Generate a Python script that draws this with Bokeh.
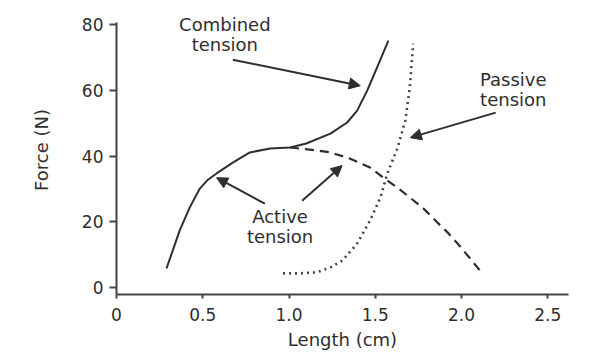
from bokeh.plotting import figure
from bokeh.models import Range1d, FixedTicker, Arrow, NormalHead, Label
from bokeh.embed import file_html
from bokeh.resources import INLINE

# Combined tension (solid)
combined_x = [0.29, 0.366, 0.424, 0.483, 0.53, 0.58, 0.674, 0.773, 0.89, 1.006, 1.10, 1.24, 1.337, 1.395, 1.453, 1.51, 1.576]
combined_y = [5.8, 17.3, 24.3, 30.1, 32.8, 34.7, 38.0, 41.1, 42.3, 42.6, 43.8, 46.8, 50.2, 53.8, 59.9, 66.9, 75.1]

# Active tension (dashed part beyond overlap)
active_x = [1.006, 1.16, 1.24, 1.355, 1.47, 1.547, 1.628, 1.70, 1.78, 1.86, 1.92, 1.977, 2.05, 2.12]
active_y = [42.6, 41.7, 41.1, 39.2, 36.5, 33.4, 30.4, 27.4, 24.0, 19.8, 16.7, 13.4, 8.8, 4.3]

# Passive tension (dotted)
passive_x = [0.965, 1.05, 1.16, 1.24, 1.31, 1.395, 1.47, 1.53, 1.57, 1.63, 1.674, 1.70, 1.72]
passive_y = [4.3, 4.3, 4.6, 6.1, 8.2, 13.4, 20.4, 27.4, 34.7, 42.6, 50.8, 60.8, 74.2]

x_ticks = [0, 0.5, 1.0, 1.5, 2.0, 2.5]
x_tick_labels = ["0", "0.5", "1.0", "1.5", "2.0", "2.5"]
y_ticks = [0, 20, 40, 60, 80]

INK = "#2e2e2e"
FONT = "DejaVu Sans"

p = figure(width=606, height=352, output_backend="svg", toolbar_location=None,
           x_range=Range1d(0, 2.62), y_range=Range1d(-2.13, 85.8),
           min_border_left=116, min_border_right=38, min_border_top=5, min_border_bottom=58)
p.outline_line_color = None
p.grid.visible = False
p.background_fill_color = "white"

p.line(combined_x, combined_y, line_color=INK, line_width=2)
p.line(active_x, active_y, line_color=INK, line_width=2.2, line_dash="9 6")
p.line(passive_x, passive_y, line_color="#444444", line_width=2.6, line_dash="2 4")

for ax in (p.xaxis[0], p.yaxis[0]):
    ax.axis_line_width = 2
    ax.axis_line_color = "#444444"
    ax.major_tick_line_color = "#444444"
    ax.major_tick_line_width = 2
    ax.major_tick_in = 0
    ax.minor_tick_line_color = None
    ax.major_label_text_font = FONT
    ax.major_label_text_font_size = "17px"
    ax.major_label_text_color = INK
    ax.axis_label_text_font = FONT
    ax.axis_label_text_font_size = "18px"
    ax.axis_label_text_font_style = "normal"
    ax.axis_label_text_color = INK

p.xaxis.ticker = FixedTicker(ticks=x_ticks)
p.xaxis.major_label_overrides = {t: l for t, l in zip(x_ticks, x_tick_labels)}
p.xaxis.major_tick_out = 4
p.xaxis.major_label_standoff = 9
p.xaxis.axis_label = "Length (cm)"
p.xaxis.axis_label_standoff = 5

p.yaxis.ticker = FixedTicker(ticks=y_ticks)
p.yaxis.bounds = (-2.13, 80.6)
p.yaxis.major_tick_out = 7
p.yaxis.major_label_standoff = 6
p.yaxis.axis_label = "Force (N)"
p.yaxis.axis_label_standoff = 27

def arrow(x0, y0, x1, y1):
    p.add_layout(Arrow(end=NormalHead(size=11, fill_color=INK, line_color=INK),
                       x_start=x0, y_start=y0, x_end=x1, y_end=y1,
                       line_color=INK, line_width=2))

arrow(0.674, 69.3, 1.413, 61.4)
arrow(2.198, 53.2, 1.703, 45.6)
arrow(0.86, 25.5, 0.58, 33.4)
arrow(1.076, 26.4, 1.308, 37.1)

def label(x, y, txt):
    p.add_layout(Label(x=x, y=y, text=txt, text_align="center", text_baseline="middle",
                       text_font=FONT, text_font_size="18px", text_color=INK,
                       text_line_height=0.95))

label(0.628, 77.0, "Combined\ntension")
label(2.30, 60.2, "Passive\ntension")
label(0.948, 18.6, "Active\ntension")

open("out.html", "w").write(file_html(p, INLINE))
